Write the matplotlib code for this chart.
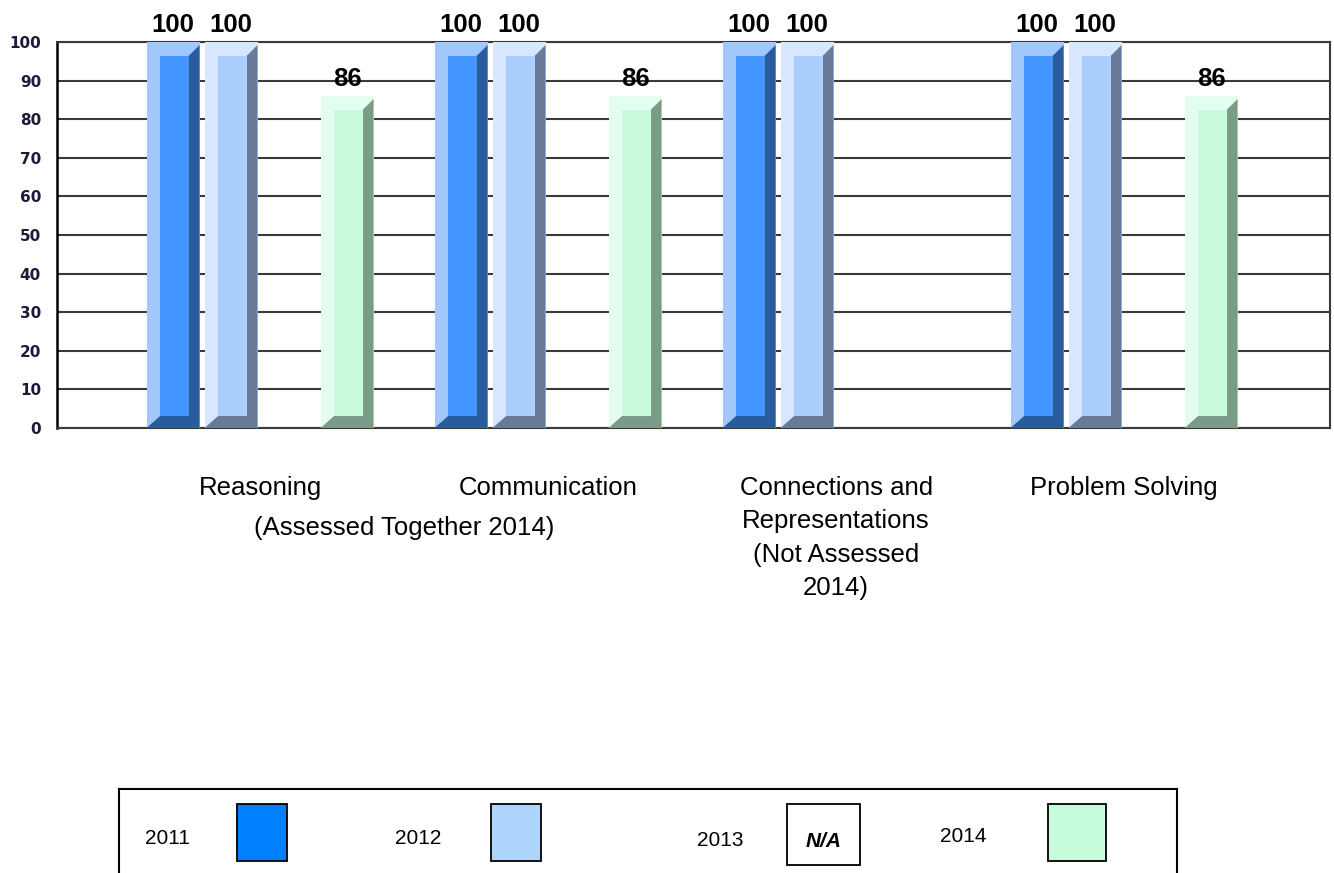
import numpy as np
import matplotlib
matplotlib.use('Agg')
import matplotlib.pyplot as plt
from matplotlib.patches import Rectangle, Polygon
from matplotlib.lines import Line2D
from matplotlib.transforms import blended_transform_factory

plt.rcParams['font.family'] = ['Liberation Sans', 'DejaVu Sans']

# data
categories = ['Reasoning', 'Communication',
              'Connections and\nRepresentations\n(Not Assessed\n2014)',
              'Problem Solving']
years = ['2011', '2012', '2013', '2014']
vals_2011 = [100, 100, 100, 100]
vals_2012 = [100, 100, 100, 100]
vals_2013 = [np.nan, np.nan, np.nan, np.nan]   # N/A
vals_2014 = [86, 86, np.nan, 86]
series = [vals_2011, vals_2012, vals_2013, vals_2014]

# (light bevel, face, dark side) per year
bar_colors = [('#A0C8FF', '#4494FF', '#2A5B9C'),
              ('#D6E7FF', '#AACFFF', '#677B99'),
              None,
              ('#E3FDEF', '#C8FADC', '#7B9A88')]
legend_colors = ['#007FFF', '#AED4FC', None, '#C6FCDC']

W, H = 1334, 873
fig = plt.figure(figsize=(W / 100, H / 100), dpi=100)
ax = fig.add_axes([57 / W, 1 - 428 / H, (1330 - 57) / W, (428 - 42) / H])

x = np.arange(len(categories))
slot = 0.2014
bw = 0.184
bl, br = 0.047, 0.038   # bevel widths (x, data units)
bt, bb = 3.6, 3.1       # bevel heights (y, data units)

for k, vals in enumerate(series):
    if bar_colors[k] is None:
        continue
    light, face, dark = bar_colors[k]
    for i, v in enumerate(vals):
        if np.isnan(v):
            continue
        xc = x[i] + (k - 1.5) * slot
        x0, x1 = xc - bw / 2, xc + bw / 2
        ax.add_patch(Rectangle((x0, 0), bw, v, facecolor=light, edgecolor='none', zorder=3))
        ax.add_patch(Polygon([(x0, 0), (x1, 0), (x1, v - 0.8), (x1 - br, v - bt),
                              (x1 - br, bb), (x0 + bl, bb)],
                             closed=True, facecolor=dark, edgecolor='none', zorder=3))
        ax.add_patch(Rectangle((x0 + bl, bb), bw - bl - br, v - bt - bb,
                               facecolor=face, edgecolor='none', zorder=4))
        ax.annotate(str(int(v)), (xc, v), xytext=(0, 7), textcoords='offset points',
                    ha='center', va='baseline', fontsize=18.5, fontweight='bold',
                    color='black', annotation_clip=False)

ax.set_xlim(-0.705, 3.715)
ax.set_ylim(0, 100)
ax.set_yticks(range(0, 101, 10))
ax.set_yticklabels([str(t) for t in range(0, 101, 10)], family='DejaVu Sans',
                   fontweight='bold', fontsize=11, color='#1b1b3a')
ax.set_xticks(x)
ax.set_xticklabels(categories, fontsize=18.5, va='top', linespacing=1.5)
ax.tick_params(axis='both', length=0)
ax.tick_params(axis='y', pad=11.5)
ax.tick_params(axis='x', pad=34.5)
ax.yaxis.grid(True, color='#3a3a3a', linewidth=1.5, zorder=1)
ax.set_axisbelow(True)
for s in ['top', 'right', 'bottom']:
    ax.spines[s].set_color('#3a3a3a')
    ax.spines[s].set_linewidth(1.5)
ax.spines['left'].set_color('black')
ax.spines['left'].set_linewidth(1.8)

trans = blended_transform_factory(ax.transData, fig.transFigure)
ax.text(0.5, 1 - 528 / H, '(Assessed Together 2014)', transform=trans,
        ha='center', va='center', fontsize=18.5)

# legend box (bottom edge runs off the picture)
def fx(px):
    return px / W

def fy(py):
    return 1 - py / H

frame = dict(color='black', linewidth=1.5, transform=fig.transFigure)
fig.add_artist(Line2D([fx(119), fx(1177)], [fy(789), fy(789)], **frame))
fig.add_artist(Line2D([fx(119), fx(119)], [fy(789), fy(880)], **frame))
fig.add_artist(Line2D([fx(1177), fx(1177)], [fy(789), fy(880)], **frame))

text_left = [145, 395, 697, 940]
text_base = [844, 844, 846, 842]
box_left = [237, 491, 787, 1048]
box_right = [287, 541, 860, 1106]
box_bottom = [861, 861, 865, 861]
for k, yr in enumerate(years):
    fig.text(fx(text_left[k]), fy(text_base[k]), yr, ha='left', va='baseline', fontsize=15)
    fc = legend_colors[k] if legend_colors[k] else 'white'
    fig.add_artist(Rectangle((fx(box_left[k]), fy(box_bottom[k])),
                             fx(box_right[k]) - fx(box_left[k]),
                             fy(804) - fy(box_bottom[k]),
                             facecolor=fc, edgecolor='black', linewidth=1.3,
                             transform=fig.transFigure))
    if legend_colors[k] is None:
        fig.text(fx((box_left[k] + box_right[k]) / 2), fy(847), 'N/A', ha='center',
                 va='baseline', fontsize=15, fontweight='bold', style='italic')

fig.savefig('out.png', dpi=100)
